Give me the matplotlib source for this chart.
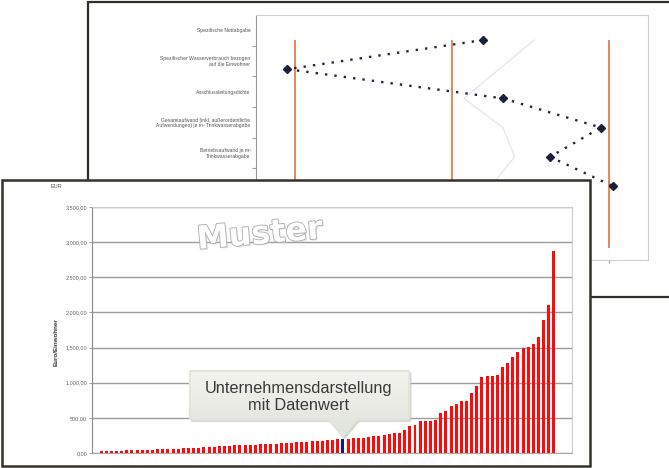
import numpy as np
import matplotlib
matplotlib.use("Agg")
import matplotlib.pyplot as plt
from matplotlib.patches import Rectangle, Polygon
import matplotlib.patheffects as pe

# ---------------------------------------------------------------- data
# Profile chart (percentile ranks of one utility per key figure)
profile_labels = [
    "Spezifische Nettabgabe",
    "Spezifischer Wasserverbrauch bezogen\nauf die Einwohner",
    "Anschlussleitungsdichte",
    "Gesamtaufwand (inkl. außerordentliche\nAufwendungen) je m³ Trinkwasserabgabe",
    "Betriebsaufwand je m³\nTrinkwasserabgabe",
]
profile_values = [58, 8, 63, 88, 75, 91]
reference_values = [71, 62, 53, 63, 66, 60]
percentile_marks = [10, 50, 90]

# Ranking chart (sorted values of all participants)
ranking_values = [
    22, 25, 28, 30, 33, 36, 38, 41, 44, 46,
    49, 52, 55, 58, 61, 64, 67, 70, 74, 78,
    82, 86, 90, 95, 100, 104, 107, 110, 113, 116,
    119, 122, 126, 130, 134, 138, 142, 146, 150, 155,
    160, 165, 170, 176, 182, 188, 195, 203, 205, 207,
    210, 214, 224, 236, 246, 258, 272,
    286, 290, 333, 380, 403, 450, 452, 455, 474, 569,
    592, 663, 701, 743, 745, 852, 956, 1079, 1097, 1100,
    1112, 1220, 1277, 1362, 1441, 1489, 1503, 1546, 1654, 1890,
    2102, 2872,
]
highlight_index = 47
y_ticks = [0, 500, 1000, 1500, 2000, 2500, 3000, 3500]


def de_number(v):
    s = format(v, ",.2f")
    return s.replace(",", "X").replace(".", ",").replace("X", ".")


y_tick_labels = [de_number(v) for v in y_ticks]

# ---------------------------------------------------------------- layout helpers
W, H = 669, 468


def rect(x0, y0, x1, y1):
    return [x0 / W, 1 - y1 / H, (x1 - x0) / W, (y1 - y0) / H]


fig = plt.figure(figsize=(W / 100, H / 100), dpi=100)
fig.patch.set_facecolor("white")

# background canvas with the rear sheet
bg = fig.add_axes([0, 0, 1, 1], zorder=0)
bg.set_xlim(0, W)
bg.set_ylim(H, 0)
bg.axis("off")
bg.add_patch(Rectangle((88, 2), 600, 295, facecolor="white",
                       edgecolor="#2f2f29", lw=1.6))

# ---------------------------------------------------------------- profile chart
axb = fig.add_axes(rect(256, 15, 648, 260), zorder=1)
axb.set_facecolor("white")
axb.set_xlim(0, 100)
axb.set_ylim(8, 0)
for side in ["top", "right", "bottom"]:
    axb.spines[side].set_color("#d0d0d0")
axb.spines["left"].set_color("#9a9a9a")
axb.set_yticks(np.arange(1, 8))
axb.set_yticklabels([])
axb.tick_params(axis="y", which="major", length=3, color="#a0a0a0", direction="out")
axb.set_yticks(np.arange(len(profile_labels)) + 0.5, minor=True)
axb.set_yticklabels(profile_labels, minor=True, fontsize=3.6, color="#555555",
                    family="Liberation Sans")
axb.tick_params(axis="y", which="minor", length=0, pad=4)
axb.set_xticks(percentile_marks)
axb.set_xticklabels([])
axb.tick_params(axis="x", length=2, color="#a0a0a0")
axb.vlines(percentile_marks, 0.82, 7.6, colors="#e0652f", lw=1.1)

axp = axb.twinx()
axp.set_zorder(1.5)
axp.patch.set_visible(False)
axp.set_ylim(7.534, -0.856)
axp.axis("off")
idx = np.arange(len(profile_values))
axp.plot(reference_values, idx, color="#e4e9ee", lw=1.0)
axp.plot(profile_values, idx, ls=(0, (1, 3)), lw=1.7, color="#23263a",
         marker="D", ms=4.5, mfc="#1c1f3a", mec="#1c1f3a")

# ---------------------------------------------------------------- front sheet
fig.add_artist(Rectangle((2 / W, 1 - 466 / H), 588 / W, 286 / H,
                         transform=fig.transFigure, facecolor="white",
                         edgecolor="#33332b", lw=1.8, zorder=2))

axf = fig.add_axes(rect(92, 207, 572, 453), zorder=3)
axf.patch.set_visible(False)
xs = np.arange(len(ranking_values))
colors = ["#ff0a0a"] * len(ranking_values)
colors[highlight_index] = "#0c1a8c"
axf.bar(xs, ranking_values, width=0.58, color=colors, zorder=3)
axf.set_xlim(-1.75, 91.5)
axf.set_ylim(0, 3500)
axf.set_yticks(y_ticks)
axf.set_yticklabels(y_tick_labels, fontsize=4, color="#666666",
                    family="Liberation Sans")
axf.tick_params(axis="y", length=2, width=0.6, color="#888888", pad=1.5)
axf.set_xticks([])
axf.grid(axis="y", color="#9c9c9c", lw=1.0, zorder=1)
axf.set_axisbelow(True)
axf.spines["left"].set_color("#8a8a8a")
axf.spines["bottom"].set_color("#a8a8a8")
axf.spines["right"].set_color("#cccccc")
axf.spines["top"].set_color("#cccccc")

# ---------------------------------------------------------------- overlay texts
ov = fig.add_axes([0, 0, 1, 1], zorder=4)
ov.set_xlim(0, W)
ov.set_ylim(H, 0)
ov.axis("off")
ov.patch.set_visible(False)

ov.text(56, 187, "EUR", fontsize=4, color="#555555", ha="center", va="center",
        family="Liberation Sans")
ov.text(56, 342, "Euro/Einwohner", fontsize=4.5, color="#333333", ha="center",
        va="center", rotation=90, weight="bold", family="Liberation Sans")

ov.text(260, 235, "Muster", fontsize=23, weight="bold", color="white",
        ha="center", va="center", rotation=5, family="DejaVu Sans",
        path_effects=[pe.SimplePatchShadow(offset=(1.2, -1.2),
                                           shadow_rgbFace="#cfcfcf", alpha=0.45),
                      pe.withStroke(linewidth=1.3, foreground="#b0b0b0")])

# callout pointing at the highlighted bar
disp = axf.transData.transform((highlight_index, ranking_values[highlight_index]))
tx, ty = ov.transData.inverted().transform(disp)
ty -= 4
bx0, by0, bx1, by1 = 191, 372, 408, 418
shape = [(bx0, by0), (bx1, by0), (bx1, by1), (tx + 14, by1), (tx, ty),
         (tx - 14, by1), (bx0, by1)]
shadow = [(x + 1.5, y + 2) for x, y in shape]
ov.add_patch(Polygon(shadow, closed=True, facecolor="#c8cbc2", edgecolor="#c8cbc2",
                     lw=3, joinstyle="round", alpha=0.7))
callout = Polygon(shape, closed=True, facecolor="#e8eae2", edgecolor="#e2e5dc",
                  lw=3, joinstyle="round")
ov.add_patch(callout)
grad = np.linspace(0, 1, 64).reshape(-1, 1)
im = ov.imshow(grad, extent=(bx0 - 2, bx1 + 2, ty + 2, by0 - 2),
               cmap=matplotlib.colors.LinearSegmentedColormap.from_list(
                   "cg", ["#f3f4ef", "#e0e3da"]),
               aspect="auto", origin="upper", zorder=2)
im.set_clip_path(callout)
ov.set_xlim(0, W)
ov.set_ylim(H, 0)
ov.text(299, 388, "Unternehmensdarstellung", fontsize=11.8, color="#3a3a3a",
        ha="center", va="center", family="Liberation Sans", zorder=3)
ov.text(299, 405, "mit Datenwert", fontsize=11.8, color="#3a3a3a",
        ha="center", va="center", family="Liberation Sans", zorder=3)

fig.savefig("out.png", dpi=100)
